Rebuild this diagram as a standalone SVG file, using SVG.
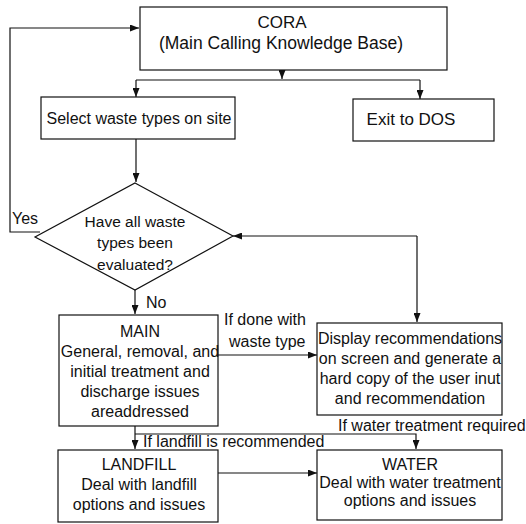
<svg xmlns="http://www.w3.org/2000/svg" width="526" height="524" viewBox="0 0 526 524">
<style>
  .box { fill: #fff; stroke: #111; stroke-width: 1.2; }
  .t { font-family: "Liberation Sans", Arial, sans-serif; font-size: 16px; fill: #111; text-anchor: middle; }
  .l { font-family: "Liberation Sans", Arial, sans-serif; font-size: 16px; fill: #111; }
  .c { fill: none; stroke: #111; stroke-width: 1.2; }
</style>
<defs>
  <marker id="ah" markerUnits="userSpaceOnUse" markerWidth="9" markerHeight="7" refX="9" refY="3.5" orient="auto">
    <path d="M0,0 L9,3.5 L0,7 z" fill="#111"/>
  </marker>
</defs>
<rect width="526" height="524" fill="#fff"/>

<g id="connectors">
  <path class="c" d="M40,232 L10,232 L10,28 L139,28" marker-end="url(#ah)"/>
  <path class="c" d="M282,70 L282,79" marker-end="url(#ah)"/>
  <path class="c" d="M136,80 L420,80"/>
  <path class="c" d="M136,80 L136,97" marker-end="url(#ah)"/>
  <path class="c" d="M420,80 L420,99" marker-end="url(#ah)"/>
  <path class="c" d="M136,139 L136,182" marker-end="url(#ah)"/>
  <path class="c" d="M135,290 L135,314" marker-end="url(#ah)"/>
  <path class="c" d="M417,236 L233,236" marker-end="url(#ah)"/>
  <path class="c" d="M417,236 L417,322" marker-end="url(#ah)"/>
  <path class="c" d="M218,355 L317,355" marker-end="url(#ah)"/>
  <path class="c" d="M135,426 L135,449" marker-end="url(#ah)"/>
  <path class="c" d="M135,434 L416,434 L416,449" marker-end="url(#ah)"/>
  <path class="c" d="M218,473 L317,473" marker-end="url(#ah)"/>
  <text class="l" x="12" y="224">Yes</text>
  <text class="l" x="146" y="308">No</text>
  <text class="l" x="224" y="325">If done with</text>
  <text class="l" x="229" y="347">waste type</text>
  <text class="l" x="338" y="431">If water treatment required</text>
  <text class="l" x="143" y="447">If landfill is recommended</text>
</g>

<g id="cora">
  <rect class="box" x="140" y="7" width="307" height="63"/>
  <text class="t" x="282" y="28" style="font-size:17px">CORA</text>
  <text class="t" x="281" y="49" style="font-size:17.5px">(Main Calling Knowledge Base)</text>
</g>

<g id="select">
  <rect class="box" x="41" y="97" width="194" height="42"/>
  <text class="t" x="139" y="124">Select waste types on site</text>
</g>

<g id="exit">
  <rect class="box" x="353" y="99" width="141" height="42"/>
  <text class="t" x="411" y="125" style="font-size:17px">Exit to DOS</text>
</g>

<g id="decision">
  <polygon class="box" points="135,183 233,236 135,290 35,237"/>
  <text class="t" x="135" y="227" style="font-size:15.5px">Have all waste</text>
  <text class="t" x="135" y="248" style="font-size:15.5px">types been</text>
  <text class="t" x="135" y="270" style="font-size:15.5px">evaluated?</text>
</g>

<g id="main">
  <rect class="box" x="59" y="315" width="159" height="111"/>
  <text class="t" x="140" y="337">MAIN</text>
  <text class="t" x="140" y="357">General, removal, and</text>
  <text class="t" x="140" y="377">initial treatment and</text>
  <text class="t" x="140" y="397">discharge issues</text>
  <text class="t" x="140" y="417">areaddressed</text>
</g>

<g id="display">
  <rect class="box" x="317" y="323" width="185" height="92"/>
  <text class="t" x="410" y="344">Display recommendations</text>
  <text class="t" x="410" y="364">on screen and generate a</text>
  <text class="t" x="410" y="384">hard copy of the user inut</text>
  <text class="t" x="410" y="404">and recommendation</text>
</g>

<g id="landfill">
  <rect class="box" x="58" y="450" width="160" height="72"/>
  <text class="t" x="139" y="470">LANDFILL</text>
  <text class="t" x="139" y="490">Deal with landfill</text>
  <text class="t" x="139" y="510">options and issues</text>
</g>

<g id="water">
  <rect class="box" x="317" y="450" width="185" height="70"/>
  <text class="t" x="410" y="470">WATER</text>
  <text class="t" x="410" y="488">Deal with water treatment</text>
  <text class="t" x="410" y="506">options and issues</text>
</g>
</svg>
